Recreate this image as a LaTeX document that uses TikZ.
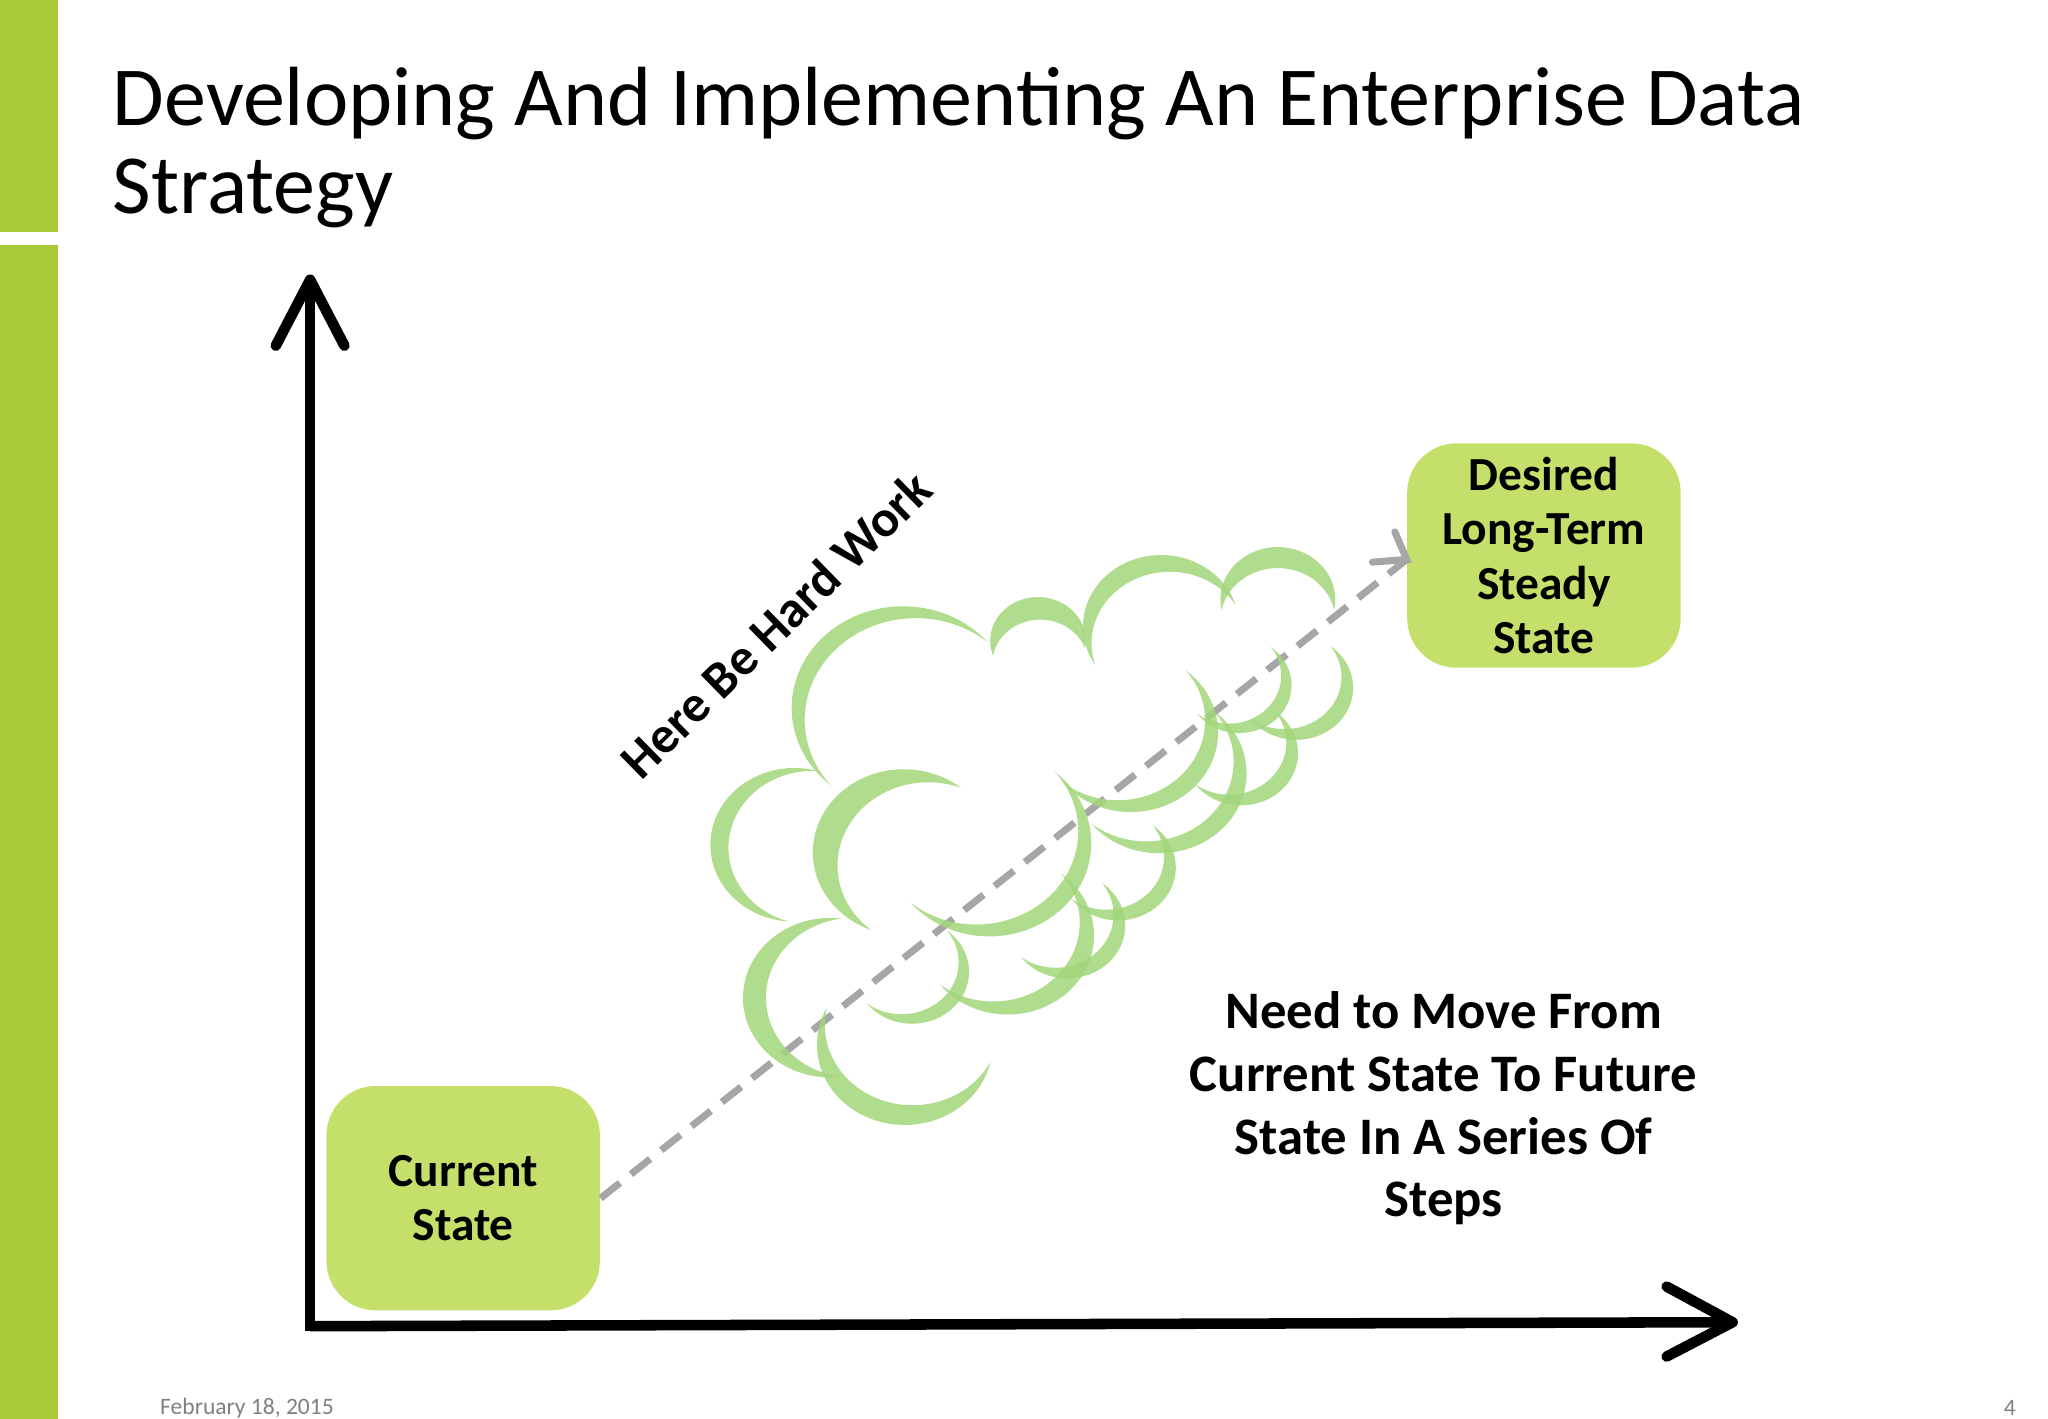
\documentclass[tikz,border=0pt]{standalone}
\usepackage{fontspec}
\setmainfont{Carlito}
\definecolor{bar}{HTML}{A9C937}
\definecolor{boxg}{HTML}{C4E06A}
\definecolor{cl}{HTML}{A2D67A}
\newcommand{\crescent}[5]{%
  \begin{scope}
  \clip ($(#1,#2)+(#4+180:#5)$) circle[radius=#3] (-100,-100) rectangle (3000,3000);
  \fill[cl,fill opacity=0.85] (#1,#2) circle[radius=#3];
  \end{scope}}
\usetikzlibrary{calc}
\begin{document}
\begin{tikzpicture}[x=0.13196mm,y=-0.13196mm,
  box/.style={fill=boxg,rounded corners=14pt,font=\bfseries\fontsize{13.5}{15.5}\selectfont,align=center,text width=2.5cm},
  axis/.style={line width=3pt}]
\useasboundingbox (0,0) rectangle (1552,1075);
\fill[bar] (0,0) rectangle (44,176);
\fill[bar] (0,186) rectangle (44,1075);
\node[anchor=base west,font=\fontsize{23.9}{28}\selectfont,inner sep=0] (title) at (85,95) {Developing And Implementing An Enterprise Data};
\node[anchor=base west,font=\fontsize{23.9}{28}\selectfont,inner sep=0] (title2) at (85,162) {Strategy};
\coordinate (o) at (235,1005);
\coordinate (ytop) at (235,212);
\coordinate (xend) at (1313,1002);
\draw[axis] (235,1009) -- (ytop);
\draw[axis] (o) -- (xend);
\draw[axis,line cap=round,line join=round] (209,262) -- (ytop) -- (261,262);
\draw[axis,line cap=round,line join=round] (1263,975) -- (xend) -- (1263,1028);
\node[box,minimum width=198*0.13196mm,minimum height=170*0.13196mm] (cur) at (351,908) {Current\\State};
\node[box,minimum width=198*0.13196mm,minimum height=170*0.13196mm] (des) at (1170,421) {Desired\\Long-Term\\Steady\\State};
\draw[gray!70,line width=2pt,dash pattern=on 7pt off 4pt] (cur.east) -- (1066,424);
\draw[gray!70,line width=2pt,line cap=round] (1040,426) -- (1066,424) -- (1057,403);
% cloud crescents (original pixel units)
\begin{scope}[scale=0.7578,even odd rule]
\begin{scope}[shift={(109.8,83)},xscale=0.919,yscale=0.84]
\crescent{863}{744}{121}{225}{20}
\crescent{1010}{664}{52}{265}{27}
\crescent{1144}{647}{85}{245}{22}
\crescent{1271}{615}{62.5}{270}{25}
\crescent{745}{907}{91.5}{190}{20}
\crescent{864}{916}{99}{210}{31}
\crescent{784}{1089}{95}{180}{25}
\crescent{865}{1145}{95.5}{110}{25}
\crescent{957}{905}{111}{45}{20}
\crescent{1111}{773}{95}{45}{20}
\crescent{1142}{822}{95}{45}{20}
\crescent{1229}{717}{57}{45}{16}
\crescent{1291}{720}{62}{45}{18}
\crescent{1231}{798}{62}{45}{18}
\crescent{1097}{934}{63}{45}{18}
\crescent{977}{1015}{94}{45}{22}
\crescent{1042}{1003}{63}{45}{18}
\crescent{873}{1058}{62}{45}{16}
\end{scope}
\end{scope}
\node[rotate=44.4,font=\bfseries\fontsize{14.7}{18}\selectfont] (hw) at (588,473) {Here Be Hard Work};
\node[align=center,font=\bfseries\fontsize{15}{17.8}\selectfont] (need) at (1094,840) {Need to Move From\\Current State To Future\\State In A Series Of\\Steps};
\node[anchor=west,font=\fontsize{6.7}{8}\selectfont,text=gray] (date) at (112,1067) {February 18, 2015};
\node[font=\fontsize{6.7}{8}\selectfont,text=gray] (pg) at (1523,1067) {4};
\end{tikzpicture}
\end{document}
